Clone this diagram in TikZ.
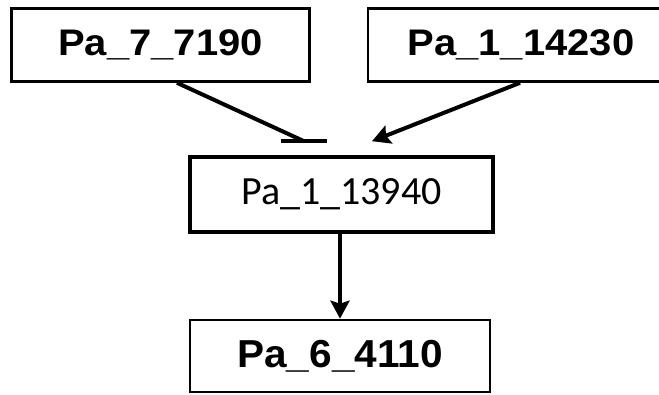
\documentclass[tikz,border=0pt]{standalone}
\usepackage{fontspec}
\setmainfont{Liberation Sans}
\newfontfamily\genefont[FakeStretch=1.08]{Liberation Sans}
\newfontfamily\genewidefont[FakeStretch=1.04]{Liberation Sans}
\newfontfamily\calfont{Carlito}
\usetikzlibrary{arrows.meta,positioning}

\begin{document}
\begin{tikzpicture}[
  x=1pt, y=-1pt,
  gene/.style={draw, line width=2.6pt, inner sep=0pt, minimum width=298pt, minimum height=73pt,
    font=\genefont\bfseries\fontsize{37}{42}\selectfont},
  link/.style={line width=4pt}
]
\useasboundingbox (0,0) rectangle (659,394);
\node [gene] (pa7) at (160.5,45) {Pa\_7\_7190};
\node [gene, minimum width=306pt] (pa1b) at (521,45) {Pa\_1\_14230};
\node [gene, line width=3.6pt, minimum width=303pt, minimum height=75pt,
  font=\calfont\fontsize{40}{44}\selectfont] (pa1a) at (341.5,194.5) {Pa\_1\_13940};
\node [gene, minimum width=300pt, minimum height=72pt,
  font=\genewidefont\bfseries\fontsize{39}{44}\selectfont] (pa6) at (340,356) {Pa\_6\_4110};
\coordinate (block) at ([xshift=-37.5pt, yshift=14pt]pa1a.north);

\draw [link] ([xshift=16.5pt]pa7.south) -- (block);
\draw [link] ([xshift=-23pt]block) -- ([xshift=23pt]block);
\draw [link, -{Stealth[length=18pt, width=19pt, inset=3pt]}] ([xshift=-1pt]pa1b.south) -- ([xshift=30.5pt, yshift=14pt]pa1a.north);
\draw [link, -{Stealth[length=18pt, width=19pt, inset=3pt]}] ([xshift=-1.5pt]pa1a.south) -- ([xshift=0pt]pa6.north);
\end{tikzpicture}
\end{document}
